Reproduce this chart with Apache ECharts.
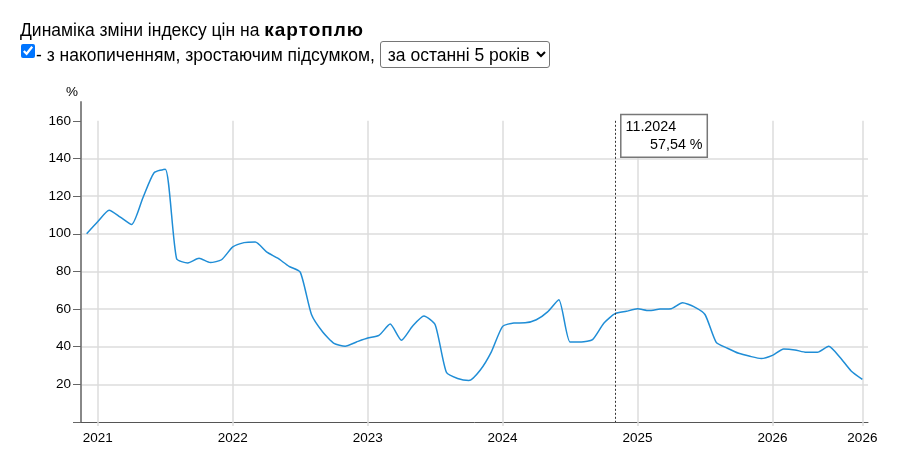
<!DOCTYPE html>
<html style="height: 100%;margin: 0;padding: 0;">
<head>
<meta charset="utf-8">
<title>Динаміка зміни індексу цін на картоплю</title>
<script src="https://cdn.jsdelivr.net/npm/echarts@6/dist/echarts.min.js"></script>
<style>
  body { margin: 0; padding: 0; font-family: Arial, "Liberation Sans", sans-serif; }
  #head { position: absolute; left: 20px; top: 19px; z-index: 2; font-size: 17.5px; color: #000; }
  #head .row1 { height: 22px; line-height: 22px; }
  #head .row1 b { font-size: 19px; letter-spacing: 1px; }
  #head .row2 { margin-top: 0px; height: 27px; line-height: 27px; }
  #head input { margin: 0 1px 0 1px; width: 14px; height: 14px; vertical-align: 3px; }
  #head select { font: 17.5px Arial, "Liberation Sans", sans-serif; height: 27px; padding: 0 3px; border: 1px solid #767676; border-radius: 3px; background: #fff; color: #000; }
  #main { position: absolute; left: 0; top: 0; width: 907px; height: 462px; }
</style>
</head>
<body>
<div id="main"></div>
<div id="head">
  <div class="row1">Динаміка зміни індексу цін на <b>картоплю</b></div>
  <div class="row2"><input type="checkbox" checked>- з накопиченням, зростаючим підсумком, <select><option>за останні 5 років</option></select></div>
</div>
<script type="text/javascript">
// місяці: з 12.2020 по 09.2026
var startYear = 2020, startMonth = 12;
var months = [];
for (var k = 0; k < 70; k++) {
  var m = (startMonth - 1 + k) % 12 + 1;
  var y = startYear + Math.floor((startMonth - 1 + k) / 12);
  months.push((m < 10 ? '0' : '') + m + '.' + y);
}
// індекс цін, %, наростаючим підсумком
var values = [100, 106.5, 112.5, 108.8, 104.9, 119, 132.4, 134.3, 86.8, 84.5,
  87, 84.7, 86.2, 93, 95.3, 95.6, 90.4, 87, 82.7, 79.6,
  57.1, 47.8, 41.8, 40.3, 42.5, 44.6, 46, 52, 43.4, 51,
  56.3, 51.7, 26.4, 23.1, 22, 27.5, 37.3, 50.8, 52.6, 52.7,
  54.3, 58.5, 65, 42.5, 42.5, 43.8, 52.5, 57.54, 58.8, 60.1,
  59.2, 60, 60.2, 63.3, 61.3, 57.1, 42.3, 39.2, 36.5, 34.9,
  33.7, 35.4, 38.8, 38.3, 37, 37, 40.2, 34.4, 27.1, 22.6];
var yearTicks = [1, 13, 25, 37, 49, 61, 69];
var yearLabels = ['2021', '2022', '2023', '2024', '2025', '2026', '2026'];
var yTicks = [0, 20, 40, 60, 80, 100, 120, 140, 160];
var markedIndex = 47;

var seriesData = values.map(function (v, i) { return [i, v]; });
var gridLines = yearTicks.map(function (t) {
  return [{ coord: [t, 160] }, { coord: [t, 0] }];
});

var myChart = echarts.init(document.getElementById('main'));
var font = 'Arial, "Liberation Sans", sans-serif';
var tipStyle = { fontSize: 14.3, lineHeight: 17.6, fontFamily: font, color: '#000' };
var option = {
  animation: false,
  grid: { left: 81, right: 39, top: 102, bottom: 40 },
  xAxis: {
    type: 'value',
    min: -0.5,
    max: 69.5,
    axisLine: { onZero: false, lineStyle: { color: '#555', width: 1 } },
    axisTick: { customValues: yearTicks, length: 4, lineStyle: { color: '#ddd', width: 1.5 } },
    axisLabel: {
      customValues: yearTicks,
      margin: 9,
      color: '#000',
      fontSize: 13.5,
      fontFamily: font,
      formatter: function (v) { return yearLabels[yearTicks.indexOf(v)]; }
    },
    splitLine: { show: false }
  },
  yAxis: {
    type: 'value',
    min: 0,
    max: 170,
    interval: 20,
    name: '%',
    nameLocation: 'end',
    nameGap: 3,
    nameTextStyle: { color: '#000', fontSize: 13.5, fontFamily: font, align: 'right', padding: [0, 3, 0, 0] },
    axisLine: { show: true, onZero: false, lineStyle: { color: '#888', width: 2 } },
    axisTick: { show: true, customValues: yTicks, length: 8, lineStyle: { color: '#666', width: 1 } },
    axisLabel: {
      customValues: yTicks.slice(1),
      margin: 10,
      color: '#000',
      fontSize: 13.5,
      fontFamily: font
    },
    splitLine: { show: true, showMinLine: false, showMaxLine: false, lineStyle: { color: '#ddd', width: 1.5 } }
  },
  series: [
    {
      type: 'line',
      data: seriesData,
      showSymbol: false,
      smooth: 0.2,
      z: 3,
      lineStyle: { color: '#1f8dd6', width: 1.5 },
      itemStyle: { color: '#1f8dd6' },
      markLine: {
        silent: true,
        z: 5,
        symbol: ['none', 'none'],
        label: { show: false },
        lineStyle: { color: '#333', width: 1, type: [2, 2] },
        data: [[{ coord: [markedIndex, 160] }, { coord: [markedIndex, 0] }]]
      },
      markPoint: {
        silent: true,
        z: 6,
        symbol: 'rect',
        symbolSize: 1,
        itemStyle: { color: 'rgba(0,0,0,0)' },
        label: {
          show: true,
          position: [7, -5],
          width: 77,
          padding: [3, 4, 3, 4],
          backgroundColor: '#fff',
          borderColor: '#777',
          borderWidth: 1.5,
          formatter: function () {
            var v = values[markedIndex];
            return '{a|' + months[markedIndex] + '}\n{b|' + v.toFixed(2).replace('.', ',') + ' %}';
          },
          rich: {
            a: Object.assign({ align: 'left' }, tipStyle),
            b: Object.assign({ align: 'right' }, tipStyle)
          }
        },
        data: [{ coord: [markedIndex, 160] }]
      }
    },
    {
      type: 'line',
      data: [],
      z: 1,
      markLine: {
        silent: true,
        z: 1,
        symbol: ['none', 'none'],
        label: { show: false },
        lineStyle: { color: '#ddd', width: 1.5, type: 'solid' },
        data: gridLines
      }
    }
  ]
};
myChart.setOption(option);
</script>
</body>
</html>
